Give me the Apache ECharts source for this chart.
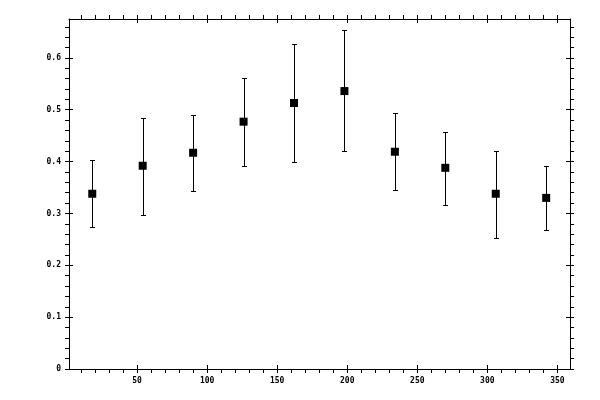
<!DOCTYPE html>
<html>
<head>
<meta charset="utf-8">
<script src="https://cdn.jsdelivr.net/npm/echarts@6/dist/echarts.min.js"></script>
<style>
  html, body { margin: 0; padding: 0; background: #fff; }
  #chart { width: 600px; height: 400px; }
</style>
</head>
<body>
<div id="chart"></div>
<script>
// ==================== 数据 ====================

const xValues = [18, 54, 90, 126, 162, 198, 234, 270, 306, 342];
const yValues = [0.338, 0.392, 0.417, 0.477, 0.513, 0.536, 0.419, 0.388, 0.338, 0.330];
const yLow = [0.274, 0.297, 0.344, 0.392, 0.399, 0.421, 0.345, 0.316, 0.253, 0.268];
const yHigh = [0.403, 0.484, 0.490, 0.562, 0.627, 0.654, 0.494, 0.457, 0.421, 0.391];

// 刻度
const xMajorTicks = [50, 100, 150, 200, 250, 300, 350];
const xMinorTicks = [10, 20, 30, 40, 50, 60, 70, 80, 90, 100, 110, 120, 130, 140, 150, 160, 170, 180,
  190, 200, 210, 220, 230, 240, 250, 260, 270, 280, 290, 300, 310, 320, 330, 340, 350];
const yMajorTicks = [0, 0.1, 0.2, 0.3, 0.4, 0.5, 0.6];
const yMinorTicks = [0, 0.02, 0.04, 0.06, 0.08, 0.1, 0.12, 0.14, 0.16, 0.18, 0.2, 0.22, 0.24, 0.26,
  0.28, 0.3, 0.32, 0.34, 0.36, 0.38, 0.4, 0.42, 0.44, 0.46, 0.48, 0.5, 0.52, 0.54, 0.56, 0.58,
  0.6, 0.62, 0.64, 0.66];

const xMin = 1.4, xMax = 359;
const yMin = 0, yMax = 0.675;

// ==================== 坐标轴 ====================

const black = '#000';
const labelStyle = {
  color: black,
  fontFamily: 'DejaVu Sans Mono',
  fontSize: 8,
  fontWeight: 'bold',
  margin: 8
};

// 外侧短刻度 + 轴线（可带标签）
function outerAxis(position, min, max, minorTicks, majorTicks, withLabel) {
  return {
    type: 'value',
    position: position,
    min: min,
    max: max,
    axisLine: { show: true, onZero: false, lineStyle: { color: black, width: 1 } },
    axisTick: { show: true, inside: false, length: 4, customValues: minorTicks, lineStyle: { color: black } },
    axisLabel: withLabel
      ? Object.assign({ show: true, customValues: majorTicks, showMinLabel: true, showMaxLabel: true }, labelStyle)
      : { show: false },
    splitLine: { show: false }
  };
}

// 内侧主刻度
function innerAxis(position, min, max, majorTicks) {
  return {
    type: 'value',
    position: position,
    min: min,
    max: max,
    axisLine: { show: false, onZero: false },
    axisTick: { show: true, inside: true, length: 4, customValues: majorTicks, lineStyle: { color: black } },
    axisLabel: { show: false },
    splitLine: { show: false }
  };
}

// ==================== 图表 ====================

const chart = echarts.init(document.getElementById('chart'));

chart.setOption({
  animation: false,
  backgroundColor: '#fff',
  grid: { left: 69, right: 30, top: 19, bottom: 31, containLabel: false },
  xAxis: [
    outerAxis('bottom', xMin, xMax, xMinorTicks, xMajorTicks, true),
    innerAxis('bottom', xMin, xMax, xMajorTicks),
    outerAxis('top', xMin, xMax, xMinorTicks, xMajorTicks, false),
    innerAxis('top', xMin, xMax, xMajorTicks)
  ],
  yAxis: [
    outerAxis('left', yMin, yMax, yMinorTicks, yMajorTicks, true),
    innerAxis('left', yMin, yMax, yMajorTicks),
    outerAxis('right', yMin, yMax, yMinorTicks, yMajorTicks, false),
    innerAxis('right', yMin, yMax, yMajorTicks)
  ],
  series: [
    {
      // 误差棒
      type: 'custom',
      xAxisIndex: 0,
      yAxisIndex: 0,
      data: xValues.map((x, i) => [x, yLow[i], yHigh[i]]),
      encode: { x: 0, y: [1, 2] },
      renderItem: function (params, api) {
        const lo = api.coord([api.value(0), api.value(1)]);
        const hi = api.coord([api.value(0), api.value(2)]);
        const x = Math.round(lo[0]) + 0.5;
        const y1 = Math.round(lo[1]) + 0.5;
        const y2 = Math.round(hi[1]) + 0.5;
        const w = 2.5;
        const style = { stroke: black, lineWidth: 1 };
        return {
          type: 'group',
          children: [
            { type: 'line', shape: { x1: x, y1: y1, x2: x, y2: y2 }, style: style },
            { type: 'line', shape: { x1: x - w, y1: y2, x2: x + w, y2: y2 }, style: style },
            { type: 'line', shape: { x1: x - w, y1: y1, x2: x + w, y2: y1 }, style: style }
          ]
        };
      },
      z: 1
    },
    {
      // 数据点
      type: 'scatter',
      xAxisIndex: 0,
      yAxisIndex: 0,
      data: xValues.map((x, i) => [x, yValues[i]]),
      symbol: 'rect',
      symbolSize: 8,
      itemStyle: { color: black, opacity: 1 },
      z: 2
    }
  ]
});
</script>
</body>
</html>
